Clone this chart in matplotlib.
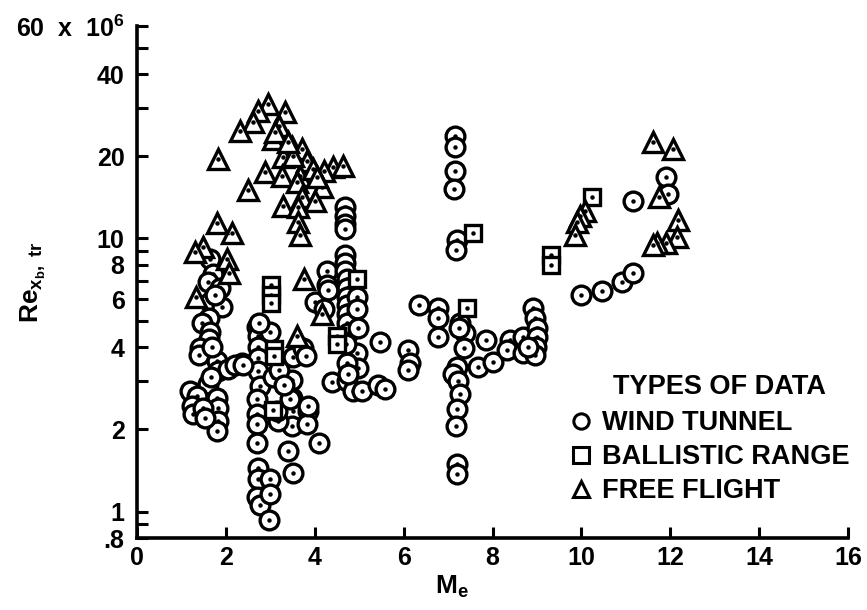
"""Transition Reynolds number vs edge Mach number, by type of data."""

import matplotlib
matplotlib.use("Agg")
import matplotlib.pyplot as plt
from matplotlib.lines import Line2D
from matplotlib.ticker import FixedLocator, FixedFormatter, NullLocator

plt.rcParams["font.family"] = ["Liberation Sans", "DejaVu Sans"]
plt.rcParams["font.weight"] = "bold"
plt.rcParams["axes.labelweight"] = "bold"
plt.rcParams["mathtext.fontset"] = "custom"
plt.rcParams["mathtext.rm"] = "Liberation Sans:bold"
plt.rcParams["mathtext.it"] = "Liberation Sans:bold"
plt.rcParams["mathtext.bf"] = "Liberation Sans:bold"

# Re values in millions
wind_m = [1.64, 1.71, 1.60, 1.87, 1.64, 1.91, 1.62, 1.46, 1.64, 1.62, 1.42, 1.40,
          1.80, 1.82, 2.05, 2.36, 1.60, 1.66, 1.19, 1.35, 1.24, 1.26, 1.80, 1.82,
          1.82, 1.80, 1.49, 1.53, 2.20, 1.76, 1.68,
          2.70, 2.72, 2.72, 2.72, 2.72, 2.77, 2.70, 2.70, 2.70, 2.70, 2.72, 2.72,
          2.70, 2.77, 3.00, 3.00, 2.97, 2.39, 3.00, 3.06, 2.75,
          3.51, 3.74, 3.49, 3.49, 3.51, 3.49, 3.85, 3.83, 3.18, 3.16, 4.10, 3.40,
          3.51, 3.85, 3.45, 3.80, 3.20, 3.30,
          4.00, 4.28, 4.28, 4.30, 4.39, 4.20,
          4.68, 4.68, 4.68, 4.68, 4.68, 4.68, 4.68, 4.72, 4.72, 4.72, 4.72, 4.72,
          4.72, 4.74, 4.95, 4.95, 4.97, 4.95, 4.97, 4.72, 4.72, 4.86, 5.07, 4.70,
          4.75,
          5.47, 5.43, 5.58, 6.10, 6.15, 6.10, 6.35, 6.78, 6.78, 6.78,
          7.16, 7.16, 7.16, 7.14, 7.20, 7.18, 7.27, 7.39, 7.35, 7.20, 7.10, 7.23,
          7.27, 7.20, 7.18, 7.20, 7.20, 7.25,
          7.86, 7.68, 8.00, 8.40, 8.33, 8.69, 8.69, 8.92, 8.96, 9.00, 9.00, 8.98,
          8.96, 8.80,
          10.00, 10.47, 10.92, 11.17, 11.17, 11.90, 11.94]
wind_re = [8.4, 7.4, 6.9, 6.6, 5.85, 5.6, 5.1, 4.9, 4.54, 4.3, 3.96, 3.73,
           3.57, 3.28, 3.34, 3.49, 2.94, 3.1, 2.77, 2.66, 2.44, 2.28, 2.61, 2.4,
           2.15, 1.97, 2.4, 2.2, 3.45, 6.2, 4.0,
           4.73, 4.4, 4.0, 3.64, 3.28, 2.89, 2.59, 2.28, 2.1, 1.78, 1.44, 1.32,
           1.13, 1.06, 1.32, 1.16, 0.93, 3.43, 4.54, 3.1, 4.9,
           3.67, 3.96, 3.02, 2.61, 2.34, 2.06, 2.34, 2.1, 2.15, 2.34, 1.78, 1.66,
           1.38, 2.44, 2.59, 3.7, 3.3, 2.9,
           5.85, 7.6, 6.75, 6.5, 2.97, 5.5,
           13.0, 12.1, 11.3, 10.8, 8.7, 8.1, 7.6, 7.1, 6.6, 6.1, 5.7, 5.3,
           4.9, 4.5, 6.1, 5.5, 4.7, 3.8, 3.35, 3.5, 3.0, 2.77, 2.77, 4.1,
           3.2,
           4.17, 2.9, 2.8, 3.9, 3.5, 3.3, 5.7, 5.55, 5.1, 4.35,
           23.8, 21.7, 17.7, 15.2, 9.9, 9.1, 4.9, 4.5, 3.96, 3.37, 3.2, 3.0,
           2.7, 2.38, 2.06, 1.49, 1.37, 4.7,
           4.24, 3.37, 3.52, 4.24, 3.9, 4.35, 3.8, 5.55, 5.1, 4.7, 4.35, 4.0,
           3.73, 4.0,
           6.2, 6.4, 6.9, 7.5, 13.7, 16.8, 14.6]

range_m = [3.02, 3.02, 3.02, 3.09, 3.09, 3.06, 4.95, 4.50, 4.50, 7.57, 7.43,
           9.32, 9.32, 10.25]
range_re = [6.75, 6.2, 5.8, 3.93, 3.7, 2.36, 7.1, 4.4, 4.1, 10.5, 5.55,
            8.7, 8.0, 14.2]

flight_m = [2.95, 2.72, 3.33, 2.62, 2.32, 3.20, 3.06, 3.49, 3.72, 3.29, 3.83,
            4.41, 4.64, 4.21, 2.88, 3.27, 3.67, 3.60, 4.17, 2.50, 3.72, 4.00,
            3.29, 3.63, 3.63, 3.67, 2.14, 1.82, 1.80, 1.49, 1.31, 2.03, 2.07,
            1.33, 3.76, 4.17, 3.60, 3.50, 3.95, 3.10, 3.40, 4.05,
            11.62, 12.07, 11.74, 12.18, 12.16, 11.90, 11.70, 11.62,
            10.09, 9.98, 9.90, 9.86]
flight_re = [31, 29.4, 29, 26.8, 24.8, 25.9, 23.2, 21.7, 21.3, 19.9, 19.2,
             18.3, 18.4, 17.7, 17.5, 16.9, 16.9, 16.1, 15.4, 15.1, 14.2, 13.7,
             13.1, 13.0, 11.5, 10.3, 10.5, 19.5, 11.4, 9.3, 8.9, 8.4, 7.5,
             6.1, 7.1, 5.3, 4.4, 20.0, 18.0, 24.5, 22.6, 16.8,
             22.6, 21.3, 14.2, 11.7, 10.1, 9.6, 9.6, 9.5,
             12.6, 12.1, 11.5, 10.3]

y_ticks = [0.8, 0.9, 1, 2, 3, 4, 5, 6, 7, 8, 9, 10, 20, 30, 40, 50, 60]
y_labels = [".8", "", "1", "2", "", "4", "", "6", "", "8", "", "10", "20", "",
            "40", "", "60  x  10$^6$"]
x_ticks = [0, 2, 4, 6, 8, 10, 12, 14, 16]

fig = plt.figure(figsize=(8.67, 6.10), dpi=100)
ax = fig.add_axes([137 / 867, 72 / 610, 711 / 867, 512 / 610])

series = [
    (wind_m, wind_re, "o", 13.5),
    (range_m, range_re, "s", 12),
    (flight_m, flight_re, "^", 14.5),
]
z = 3
for xs, ys, mk, ms in series:
    for x, y in zip(xs, ys):
        ax.plot(x, y, marker=mk, ms=ms, mfc="white", mec="black", mew=2.4,
                ls="none", zorder=z)
        ax.plot(x, y, marker="o", ms=2.2, color="black", ls="none",
                zorder=z + 0.5)
        z += 1

ax.set_yscale("log")
ax.set_xlim(0, 16)
ax.set_ylim(0.8, 60)
ax.yaxis.set_major_locator(FixedLocator(y_ticks))
ax.yaxis.set_major_formatter(FixedFormatter(y_labels))
ax.yaxis.set_minor_locator(NullLocator())
ax.set_xticks(x_ticks)
ax.tick_params(axis="both", direction="in", width=2.2, labelsize=18)
ax.tick_params(axis="y", length=8, pad=9)
ax.tick_params(axis="x", length=8, pad=6)

for side in ("top", "right"):
    ax.spines[side].set_visible(False)
for side in ("left", "bottom"):
    ax.spines[side].set_linewidth(2.6)

ax.set_xlabel("M$_\\mathregular{e}$", fontsize=19, fontweight="bold")
ax.xaxis.set_label_coords(0.443, -0.07)
ax.set_ylabel("Re$_{\\mathregular{x_b,\\ tr}}$", fontsize=19,
              fontweight="bold")
ax.yaxis.set_label_coords(-0.125, 0.5)

fig.text(613 / 867, 1 - 387 / 610, "TYPES OF DATA", fontsize=19.5,
         va="center", ha="left")
handles = [Line2D([], [], marker=m, ms=s, mfc="white", mec="black", mew=2.2,
                  ls="none") for m, s in (("o", 11), ("s", 11), ("^", 12))]
ax.legend(handles, ["WIND TUNNEL", "BALLISTIC RANGE", "FREE FLIGHT"],
          loc="upper left", bbox_to_anchor=(570 / 867, 1 - 410 / 610),
          bbox_transform=fig.transFigure, frameon=False, fontsize=19.5,
          handlelength=0.8, handletextpad=0.4, labelspacing=0.3,
          borderpad=0, borderaxespad=0)

fig.savefig("out.png", dpi=100)
